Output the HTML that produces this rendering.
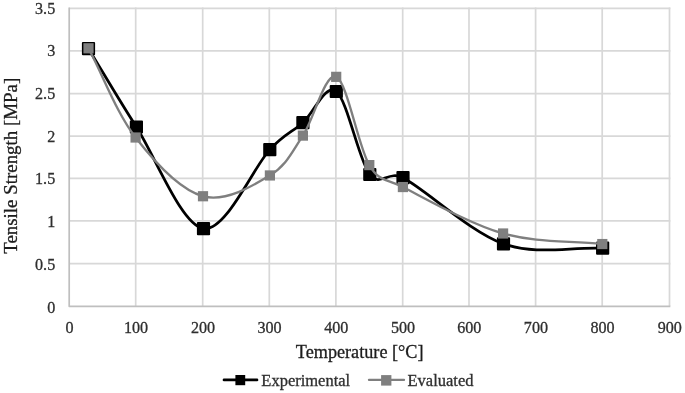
<!DOCTYPE html>
<html><head><meta charset="utf-8"><title>Tensile strength vs temperature</title>
<style>html,body{margin:0;padding:0;background:#fff}svg{display:block}text{font-family:"Liberation Serif","Times New Roman",serif;stroke-width:0.3px;paint-order:stroke}</style></head><body>
<svg width="685" height="393" viewBox="0 0 685 393">
<rect width="685" height="393" fill="#fff"/>
<g stroke="#d8d8d8" stroke-width="1.70" fill="none"><line x1="135.70" y1="7.45" x2="135.70" y2="306.30"/><line x1="202.70" y1="7.45" x2="202.70" y2="306.30"/><line x1="269.30" y1="7.45" x2="269.30" y2="306.30"/><line x1="335.90" y1="7.45" x2="335.90" y2="306.30"/><line x1="402.70" y1="7.45" x2="402.70" y2="306.30"/><line x1="469.00" y1="7.45" x2="469.00" y2="306.30"/><line x1="535.60" y1="7.45" x2="535.60" y2="306.30"/><line x1="602.20" y1="7.45" x2="602.20" y2="306.30"/><line x1="669.50" y1="7.45" x2="669.50" y2="306.30"/><line x1="69.20" y1="263.70" x2="670.35" y2="263.70"/><line x1="69.20" y1="220.90" x2="670.35" y2="220.90"/><line x1="69.20" y1="178.40" x2="670.35" y2="178.40"/><line x1="69.20" y1="136.20" x2="670.35" y2="136.20"/><line x1="69.20" y1="93.60" x2="670.35" y2="93.60"/><line x1="69.20" y1="50.90" x2="670.35" y2="50.90"/><line x1="69.20" y1="8.30" x2="670.35" y2="8.30"/></g>
<path d="M69.20 7.45 V306.30 H670.35" fill="none" stroke="#bfbfbf" stroke-width="1.70" stroke-linejoin="round"/>
<g fill="#2e2e2e" stroke="#2e2e2e" font-size="16.1">
<text x="55.2" y="312.50" text-anchor="end">0</text>
<text x="55.2" y="269.79" text-anchor="end">0.5</text>
<text x="55.2" y="226.89" text-anchor="end">1</text>
<text x="55.2" y="184.28" text-anchor="end">1.5</text>
<text x="55.2" y="141.97" text-anchor="end">2</text>
<text x="55.2" y="99.26" text-anchor="end">2.5</text>
<text x="55.2" y="56.46" text-anchor="end">3</text>
<text x="55.2" y="13.75" text-anchor="end">3.5</text>
<text x="69.50" y="333.2" text-anchor="middle">0</text>
<text x="136.00" y="333.2" text-anchor="middle">100</text>
<text x="203.00" y="333.2" text-anchor="middle">200</text>
<text x="269.60" y="333.2" text-anchor="middle">300</text>
<text x="336.20" y="333.2" text-anchor="middle">400</text>
<text x="403.00" y="333.2" text-anchor="middle">500</text>
<text x="469.30" y="333.2" text-anchor="middle">600</text>
<text x="535.90" y="333.2" text-anchor="middle">700</text>
<text x="602.50" y="333.2" text-anchor="middle">800</text>
<text x="669.80" y="333.2" text-anchor="middle">900</text>
</g>
<text x="359.7" y="357.8" text-anchor="middle" font-size="18.2" fill="#1c1c1c" stroke="#1c1c1c">Temperature [°C]</text>
<text transform="translate(17.3,165.8) rotate(-90)" text-anchor="middle" font-size="18.9" fill="#1c1c1c" stroke="#1c1c1c">Tensile Strength [MPa]</text>
<path d="M88.50 48.70 C104.47 74.80 117.23 97.02 136.40 127.00 C155.57 156.97 181.27 224.78 203.50 228.55 C225.73 232.32 253.23 167.24 269.80 149.60 C284.40 134.05 291.82 132.38 302.90 122.70 C313.98 113.02 325.15 82.87 336.30 91.50 C347.45 100.13 358.68 160.13 369.80 174.50 C380.01 187.69 388.19 170.03 403.00 177.70 C425.28 189.25 470.23 232.05 503.50 243.80 C536.77 255.55 569.60 246.73 602.65 248.20" fill="none" stroke="#000" stroke-width="2.75" stroke-linecap="round" stroke-linejoin="round"/>
<g fill="#000" stroke="#000" stroke-width="2.00" stroke-linejoin="round"><rect x="82.90" y="43.10" width="11.20" height="11.20"/><rect x="130.80" y="121.40" width="11.20" height="11.20"/><rect x="197.90" y="222.95" width="11.20" height="11.20"/><rect x="264.20" y="144.00" width="11.20" height="11.20"/><rect x="297.30" y="117.10" width="11.20" height="11.20"/><rect x="330.70" y="85.90" width="11.20" height="11.20"/><rect x="364.20" y="168.90" width="11.20" height="11.20"/><rect x="397.40" y="172.10" width="11.20" height="11.20"/><rect x="497.90" y="238.20" width="11.20" height="11.20"/><rect x="597.05" y="242.60" width="11.20" height="11.20"/></g>
<path d="M88.50 48.30 C104.20 78.03 116.52 112.84 135.60 137.50 C154.68 162.16 180.62 189.93 203.00 196.25 C225.38 202.57 253.25 185.56 269.90 175.45 C286.55 165.34 291.85 152.03 302.90 135.60 C313.95 119.17 325.13 71.93 336.20 76.85 C347.27 81.77 358.18 146.73 369.30 165.10 C379.69 182.27 385.03 177.92 402.90 187.05 C425.20 198.45 469.87 224.00 503.10 233.50 C536.33 243.00 569.23 240.53 602.30 244.05" fill="none" stroke="#7f7f7f" stroke-width="2.35" stroke-linecap="round" stroke-linejoin="round"/>
<g fill="#7f7f7f" stroke="none" stroke-width="0.00" stroke-linejoin="round"><rect x="83.40" y="43.20" width="10.20" height="10.20"/><rect x="130.50" y="132.40" width="10.20" height="10.20"/><rect x="197.90" y="191.15" width="10.20" height="10.20"/><rect x="264.80" y="170.35" width="10.20" height="10.20"/><rect x="297.80" y="130.50" width="10.20" height="10.20"/><rect x="331.10" y="71.75" width="10.20" height="10.20"/><rect x="364.20" y="160.00" width="10.20" height="10.20"/><rect x="397.80" y="181.95" width="10.20" height="10.20"/><rect x="498.00" y="228.40" width="10.20" height="10.20"/><rect x="597.20" y="238.95" width="10.20" height="10.20"/></g>
<line x1="224" y1="379.9" x2="257" y2="379.9" stroke="#000" stroke-width="2.7" stroke-linecap="round"/><rect x="235.4" y="375" width="9.8" height="10.2" fill="#000"/>
<text x="261.3" y="385.6" font-size="16.5" fill="#2e2e2e" stroke="#2e2e2e">Experimental</text>
<line x1="369" y1="379.9" x2="404" y2="379.9" stroke="#7f7f7f" stroke-width="2.3" stroke-linecap="round"/><rect x="381.1" y="375.1" width="10.3" height="10.5" fill="#7f7f7f"/>
<text x="407.5" y="385.6" font-size="16.5" fill="#2e2e2e" stroke="#2e2e2e">Evaluated</text>
</svg></body></html>
